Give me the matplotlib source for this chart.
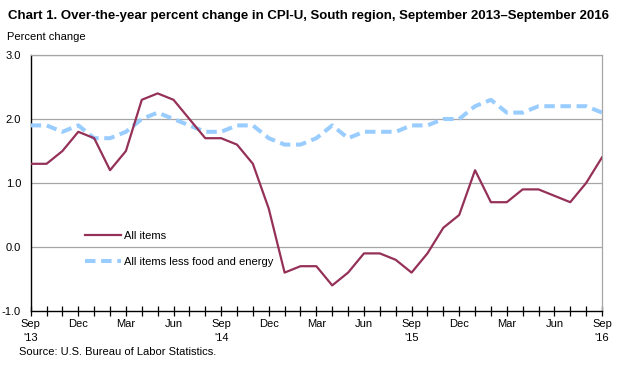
import matplotlib
matplotlib.use("Agg")
import matplotlib.pyplot as plt
import numpy as np

plt.rcParams['font.family'] = ['Liberation Sans', 'DejaVu Sans']

months = ["Sep\n'13", "Oct", "Nov", "Dec", "Jan", "Feb", "Mar", "Apr", "May", "Jun", "Jul", "Aug",
          "Sep\n'14", "Oct", "Nov", "Dec", "Jan", "Feb", "Mar", "Apr", "May", "Jun", "Jul", "Aug",
          "Sep\n'15", "Oct", "Nov", "Dec", "Jan", "Feb", "Mar", "Apr", "May", "Jun", "Jul", "Aug",
          "Sep\n'16"]
all_items = [1.3, 1.3, 1.5, 1.8, 1.7, 1.2, 1.5, 2.3, 2.4, 2.3, 2.0, 1.7,
             1.7, 1.6, 1.3, 0.6, -0.4, -0.3, -0.3, -0.6, -0.4, -0.1, -0.1, -0.2,
             -0.4, -0.1, 0.3, 0.5, 1.2, 0.7, 0.7, 0.9, 0.9, 0.8, 0.7, 1.0, 1.4]
core = [1.9, 1.9, 1.8, 1.9, 1.7, 1.7, 1.8, 2.0, 2.1, 2.0, 1.9, 1.8,
        1.8, 1.9, 1.9, 1.7, 1.6, 1.6, 1.7, 1.9, 1.7, 1.8, 1.8, 1.8,
        1.9, 1.9, 2.0, 2.0, 2.2, 2.3, 2.1, 2.1, 2.2, 2.2, 2.2, 2.2, 2.1]
yticks = [-1.0, 0.0, 1.0, 2.0, 3.0]

fig = plt.figure(figsize=(6.2, 3.78), dpi=100)
ax = fig.add_axes([30.7/620, 1-311/378, (602-30.7)/620, (311-55)/378])

x = np.arange(len(months))
ax.set_xlim(0, len(months)-1)
ax.set_ylim(-1.0, 3.0)

for y in yticks[1:]:
    ax.axhline(y, color='#A6A6A6', lw=0.9, zorder=1)

ax.plot(x, core, color='#99CCFF', lw=2.9, linestyle=(0, (2.6, 1.4)),
        dash_capstyle='butt', solid_joinstyle='round',
        label='All items less food and energy', zorder=3)
ax.plot(x, all_items, color='#953158', lw=1.6, label='All items', zorder=4)

ax.set_yticks(yticks)
ax.set_yticklabels([f"{v:.1f}" for v in yticks], fontsize=8)
ax.tick_params(axis='y', length=0, pad=7)
ax.set_xticks(x)
labels = [m if i % 3 == 0 else '' for i, m in enumerate(months)]
ax.set_xticklabels(labels, fontsize=8, linespacing=1.45)
ax.tick_params(axis='x', direction='inout', length=6.5, width=0.9, color='black', pad=2.5)

for s in ['top', 'right']:
    ax.spines[s].set_color('#A6A6A6')
    ax.spines[s].set_linewidth(0.9)
for s in ['left', 'bottom']:
    ax.spines[s].set_color('black')
    ax.spines[s].set_linewidth(1.0)
ax.spines['bottom'].set_zorder(5)

h, l = ax.get_legend_handles_labels()
leg = ax.legend(h[::-1], l[::-1], loc='upper left', bbox_to_anchor=(0.088, 0.33),
                frameon=False, fontsize=8, handlelength=3.2, handletextpad=0.3,
                labelspacing=1.45, borderaxespad=0)

fig.text(8/620, 1-16/378, "Chart 1. Over-the-year percent change in CPI-U, South region, September 2013\u2013September 2016",
         fontsize=9.5, fontweight='bold', va='center', ha='left')
fig.text(7/620, 1-37/378, "Percent change", fontsize=8, va='center', ha='left')
fig.text(19/620, 1-352/378, "Source: U.S. Bureau of Labor Statistics.", fontsize=8, va='center', ha='left')

fig.savefig('out.png', dpi=100)
